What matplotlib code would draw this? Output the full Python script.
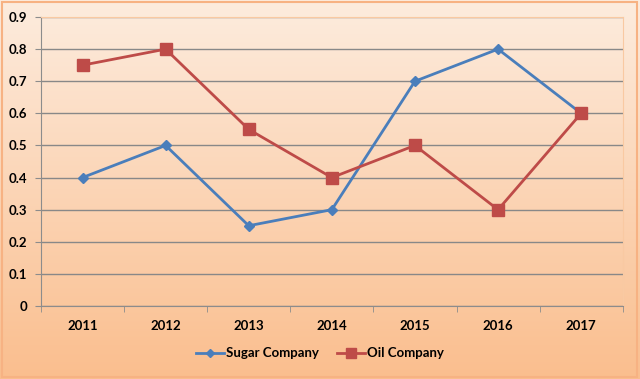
import numpy as np
import matplotlib.pyplot as plt
from matplotlib.patches import Rectangle

years = ["2011", "2012", "2013", "2014", "2015", "2016", "2017"]
sugar = [0.4, 0.5, 0.25, 0.3, 0.7, 0.8, 0.6]
oil = [0.75, 0.8, 0.55, 0.4, 0.5, 0.3, 0.6]

plt.rcParams['font.family'] = ['Lato', 'DejaVu Sans']

fig = plt.figure(figsize=(6.4, 3.79), dpi=100)

# gradient background over the whole chart
bg = fig.add_axes([0, 0, 1, 1], zorder=0)
top = np.array([253, 236, 222]) / 255
bottom = np.array([250, 190, 142]) / 255
t = np.linspace(0, 1, 256)[:, None]
grad = (top * (1 - t) + bottom * t)[:, None, :]
bg.imshow(grad, aspect='auto', extent=[0, 1, 0, 1], origin='upper')
bg.set_xlim(0, 1)
bg.set_ylim(0, 1)
bg.axis('off')
bg.add_patch(Rectangle((0.003, 0.005), 0.992, 0.99, fill=False,
                       edgecolor='#F7B283', lw=1.5, transform=bg.transAxes))

ax = fig.add_axes([0.064, 0.1926, 0.909, 0.7625], zorder=1)
ax.set_facecolor('none')
x = np.arange(len(years))
ax.plot(x, sugar, color='#4A7EBB', lw=2, marker='D', markersize=5,
        label='Sugar Company', zorder=3)
ax.plot(x, oil, color='#BE4B48', lw=2, marker='s', markersize=8,
        label='Oil Company', zorder=3)

ax.set_xlim(-0.5, 6.5)
ax.set_ylim(0, 0.9)
ax.set_yticks(np.arange(0, 0.91, 0.1))
ax.set_yticklabels(['0'] + [f"{v:.1f}" for v in np.arange(0.1, 0.91, 0.1)])
ax.set_xticks(x)
ax.set_xticklabels(years)
ax.set_xticks(np.arange(-0.5, 7, 1), minor=True)
ax.tick_params(axis='x', which='major', length=0, pad=10)
ax.tick_params(axis='x', which='minor', length=4, color='#8C8C8C')
ax.tick_params(axis='y', length=4, color='#8C8C8C', pad=6)
for lab in ax.get_xticklabels() + ax.get_yticklabels():
    lab.set_fontsize(9.5)
    lab.set_fontweight('bold')
ax.grid(axis='y', color='#888888', lw=1)
ax.set_axisbelow(True)
for s in ['top', 'right']:
    ax.spines[s].set_color('#F9C9A2')
for s in ['left', 'bottom']:
    ax.spines[s].set_color('#8C8C8C')

leg = fig.legend(loc='center', bbox_to_anchor=(0.5, 0.068), ncol=2, frameon=False,
                 prop={'size': 9.5, 'weight': 'bold'}, handlelength=2.1,
                 columnspacing=1.4, handletextpad=0.15, markerscale=0.9)

fig.savefig('out.png', dpi=100)
